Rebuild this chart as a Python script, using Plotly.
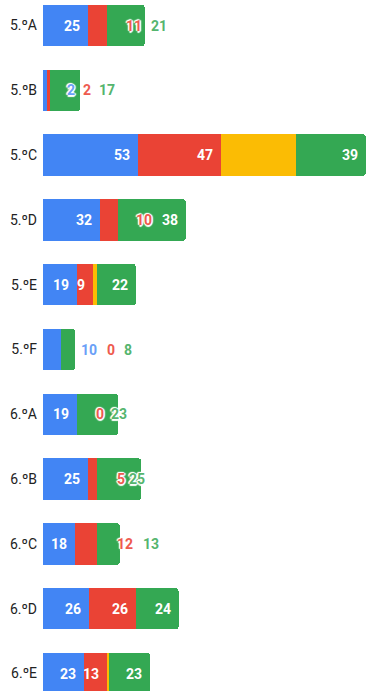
import numpy as np
import plotly.graph_objects as go

# Classes and counts per series (stacked left to right: blue, red, yellow, green)
categories = ["5.ºA", "5.ºB", "5.ºC", "5.ºD", "5.ºE", "5.ºF",
              "6.ºA", "6.ºB", "6.ºC", "6.ºD", "6.ºE"]
blue_vals = [25, 2, 53, 32, 19, 10, 19, 25, 18, 26, 23]
red_vals = [11, 2, 47, 10, 9, 0, 0, 5, 12, 26, 13]
yellow_vals = [0, 0, 42, 0, 2, 0, 0, 0, 0, 0, 1]
green_vals = [21, 17, 39, 38, 22, 8, 23, 25, 13, 24, 23]

# Value-label placement per series: "in" = white label inside the segment end,
# a number = label outside, left edge shifted that many px from the segment end,
# None = no label.
blue_place = ["in", 18, "in", "in", "in", 18, "in", "in", "in", "in", "in"]
red_place = [17, 31, "in", 16, "in", 44, 17.5, 18, 18, "in", "in"]
yellow_place = [None] * len(categories)
green_place = [4, 17, "in", "in", "in", 47, -9, -14, 21, "in", "in"]

# (name, values, bar colour, outside-label colour, placement)
series = [
    ("blue", blue_vals, "#4285F4", "#6a9ff7", blue_place),
    ("red", red_vals, "#EA4335", "#ee5a4e", red_place),
    ("yellow", yellow_vals, "#FBBC04", "#FBBC04", yellow_place),
    ("green", green_vals, "#34A853", "#55b56e", green_place),
]

FONT = "Roboto"
HALO = ("-1.5px 0 1px #fff, 1.5px 0 1px #fff, 0 -1.5px 1px #fff, "
        "0 1.5px 1px #fff, 1px 1px 1px #fff, -1px -1px 1px #fff")

fig = go.Figure()
for name, vals, color, _, _ in series:
    fig.add_trace(go.Bar(
        y=categories, x=vals, orientation="h", name=name,
        marker=dict(color=color, line=dict(width=0)),
        hoverinfo="skip",
    ))

annotations = []
cum = np.zeros(len(categories))
for name, vals, color, out_color, place in series:
    cum = cum + np.array(vals)
    for i, cat in enumerate(categories):
        p = place[i]
        if p is None:
            continue
        if p == "in":
            annotations.append(dict(
                x=float(cum[i]), y=cat, xref="x", yref="y", text=str(vals[i]),
                showarrow=False, xanchor="right", xshift=-6,
                font=dict(family=FONT, size=14, color="white", weight="bold"),
            ))
        else:
            annotations.append(dict(
                x=float(cum[i]), y=cat, xref="x", yref="y", text=str(vals[i]),
                showarrow=False, xanchor="left", xshift=p,
                font=dict(family=FONT, size=14, color=out_color, weight="bold",
                          shadow=HALO),
            ))

fig.update_layout(
    width=366, height=691, autosize=False,
    margin=dict(l=43, r=0, t=0, b=0, pad=0),
    paper_bgcolor="white", plot_bgcolor="white",
    barmode="stack", bargap=0.36, barcornerradius=3,
    showlegend=False,
    annotations=annotations,
    xaxis=dict(range=[0, 181.1], visible=False, fixedrange=True),
    yaxis=dict(
        type="category", categoryorder="array", categoryarray=categories,
        range=[10.27, -0.3935], showgrid=False, zeroline=False, showline=False,
        ticks="", ticklabelstandoff=5,
        tickfont=dict(family=FONT, size=14, color="#222222"),
        fixedrange=True,
    ),
)

fig.write_html("out.html", config={"displayModeBar": False})
